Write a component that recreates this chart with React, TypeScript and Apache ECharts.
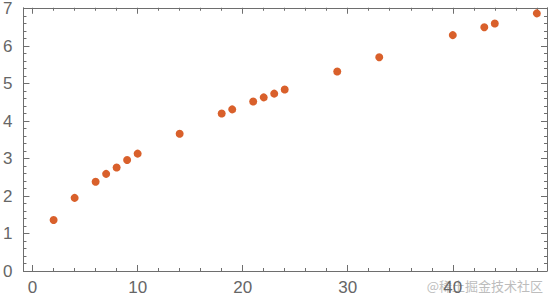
import React, { useEffect, useRef } from "react";
import * as echarts from "echarts";

const xValues = [2, 4, 6, 7, 8, 9, 10, 14, 18, 19, 21, 22, 23, 24, 29, 33, 40, 43, 44, 48];
const yValues = [1.36, 1.95, 2.38, 2.59, 2.76, 2.96, 3.13, 3.66, 4.2, 4.31, 4.52, 4.63, 4.73, 4.84, 5.32, 5.7, 6.29, 6.5, 6.6, 6.87];

const xMajorTicks = [0, 10, 20, 30, 40];
const yMajorTicks = [0, 1, 2, 3, 4, 5, 6, 7];
const xMinorStep = 2;
const yMinorStep = 0.2;

const X_MIN = -0.87;
const X_MAX = 48.97;
const Y_MIN = 0;
const Y_MAX = 7.02;

function minorTicks(min: number, max: number, step: number, majors: number[]) {
  const out: number[] = [];
  for (let i = Math.ceil(min / step); i * step <= max + 1e-9; i++) {
    const v = Math.round(i * step * 1000) / 1000;
    if (!majors.some((m) => Math.abs(m - v) < 1e-6)) out.push(v);
  }
  return out;
}

const FRAME = "#6e6e6e";
const LABEL = "#666666";

export default function App() {
  const ref = useRef<HTMLDivElement>(null);
  useEffect(() => {
    if (!ref.current) return;
    const chart = echarts.init(ref.current, undefined, { renderer: "svg" });
    const xMinor = minorTicks(X_MIN, X_MAX, xMinorStep, xMajorTicks);
    const yMinor = minorTicks(Y_MIN, Y_MAX, yMinorStep, yMajorTicks);
    const labelStyle = {
      fontFamily: "Liberation Sans",
      fontSize: 17,
      color: LABEL,
    };
    const mkX = (position: string, major: boolean, labels: boolean, line: boolean) => ({
      type: "value",
      position,
      min: X_MIN,
      max: X_MAX,
      axisLine: { show: line, onZero: false, lineStyle: { color: FRAME, width: 1 } },
      axisTick: {
        show: true,
        inside: true,
        length: major ? 6 : 3,
        customValues: major ? xMajorTicks : xMinor,
        lineStyle: { color: FRAME, width: 1 },
      },
      axisLabel: labels
        ? { show: true, customValues: xMajorTicks, margin: 8, ...labelStyle }
        : { show: false },
      splitLine: { show: false },
    });
    const mkY = (position: string, major: boolean, labels: boolean, line: boolean) => ({
      type: "value",
      position,
      min: Y_MIN,
      max: Y_MAX,
      axisLine: { show: line, onZero: false, lineStyle: { color: FRAME, width: 1 } },
      axisTick: {
        show: true,
        inside: true,
        length: major ? 6 : 3,
        customValues: major ? yMajorTicks : yMinor,
        lineStyle: { color: FRAME, width: 1 },
      },
      axisLabel: labels
        ? { show: true, customValues: yMajorTicks, margin: 11, ...labelStyle }
        : { show: false },
      splitLine: { show: false },
    });
    chart.setOption({
      animation: false,
      grid: { left: 20, right: 1, top: 7, bottom: 27, containLabel: false },
      xAxis: [
        mkX("bottom", true, true, true),
        mkX("bottom", false, false, false),
        mkX("top", true, false, true),
        mkX("top", false, false, false),
      ],
      yAxis: [
        mkY("left", true, true, true),
        mkY("left", false, false, false),
        mkY("right", true, false, true),
        mkY("right", false, false, false),
      ],
      series: [
        {
          type: "scatter",
          xAxisIndex: 0,
          yAxisIndex: 0,
          symbol: "circle",
          symbolSize: 8,
          itemStyle: { color: "#D9602B", opacity: 1 },
          data: xValues.map((x, i) => [x, yValues[i]]),
        },
      ],
      graphic: [
        {
          type: "text",
          right: 5,
          top: 279,
          style: {
            text: "@稀土掘金技术社区",
            fontFamily: "Noto Sans CJK SC",
            fontSize: 13,
            fill: "#bdbdbd",
          },
        },
      ],
    });
    return () => chart.dispose();
  }, []);
  return <div ref={ref} style={{ width: 548, height: 298, position: "absolute", left: 0, top: 0 }} />;
}
